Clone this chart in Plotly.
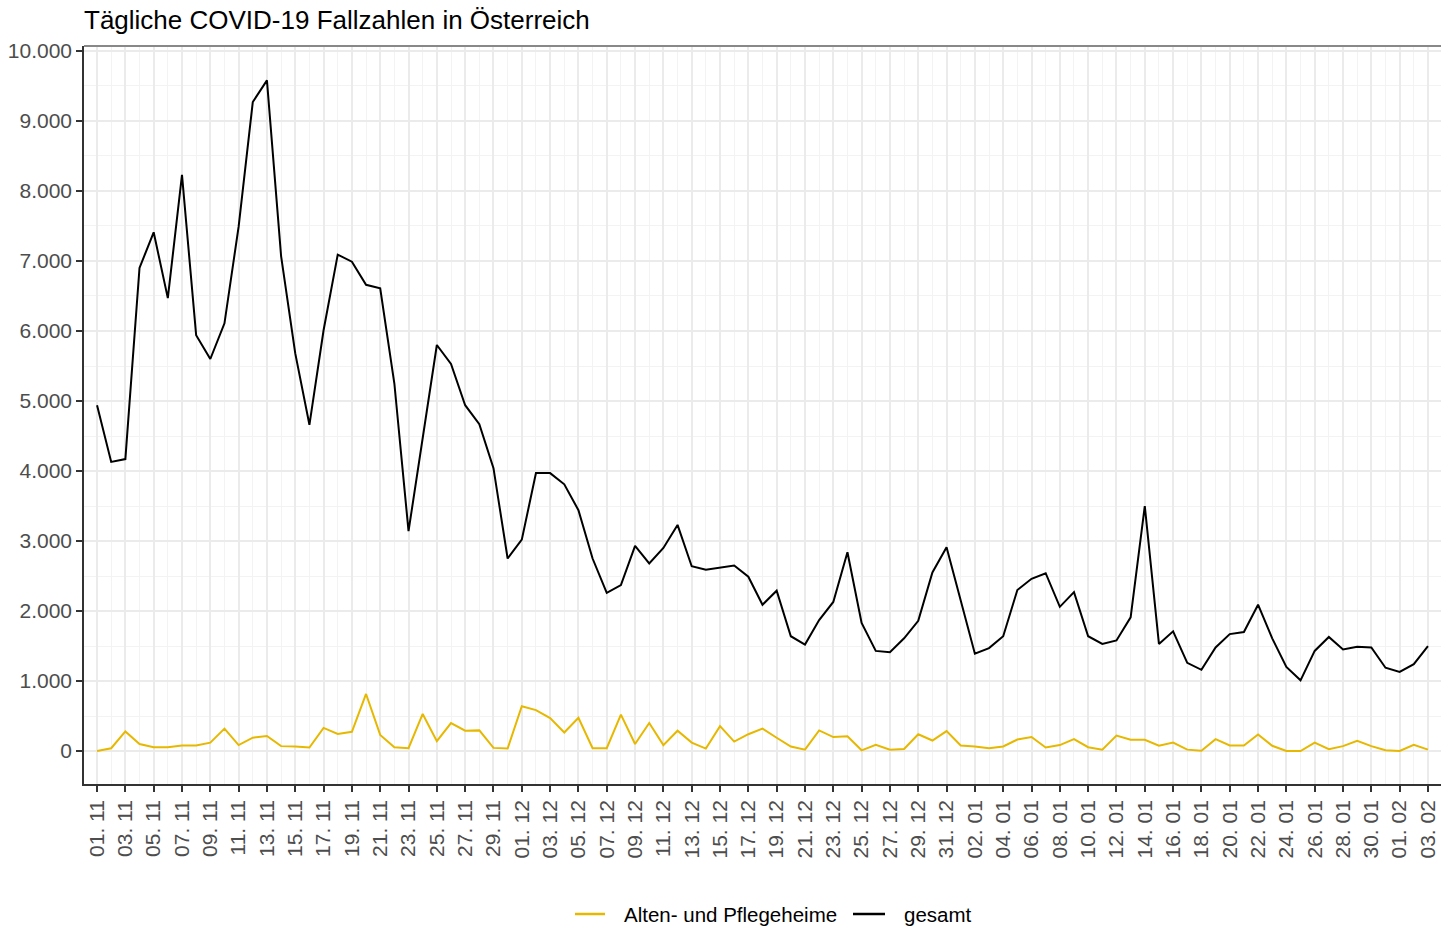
import plotly.graph_objects as go
import pandas as pd

start_date = "2020-11-01"
n_days = 95
dates = pd.date_range(start_date, periods=n_days, freq="D")

gesamt = [
    4940, 4130, 4170, 6900, 7410, 6470, 8230, 5940, 5600, 6110,
    7490, 9270, 9580, 7070, 5680, 4660, 6010, 7090, 6990, 6660,
    6610, 5250, 3140, 4440, 5800, 5530, 4940, 4670, 4040, 2750,
    3020, 3970, 3970, 3810, 3440, 2750, 2260, 2370, 2930, 2680,
    2900, 3230, 2640, 2590, 2620, 2650, 2490, 2090, 2290, 1640,
    1520, 1870, 2130, 2840, 1830, 1430, 1410, 1610, 1860, 2550,
    2910, 2140, 1390, 1470, 1640, 2300, 2460, 2540, 2060, 2270,
    1640, 1530, 1580, 1910, 3500, 1530, 1710, 1260, 1160, 1480,
    1670, 1700, 2090, 1610, 1200, 1010, 1430, 1630, 1450, 1490,
    1480, 1190, 1130, 1240, 1500,
]

heime = [
    0, 40, 280, 100, 55, 55, 80, 80, 120, 320,
    85, 190, 215, 70, 65, 50, 330, 245, 275, 815,
    230, 55, 40, 530, 140, 400, 290, 295, 45, 35,
    640, 585, 470, 265, 475, 40, 40, 520, 100, 400,
    85, 290, 120, 35, 355, 135, 240, 320, 190, 65,
    20, 295, 200, 210, 10, 90, 20, 30, 240, 150,
    285, 80, 65, 40, 65, 165, 200, 50, 85, 170,
    55, 20, 220, 160, 160, 75, 120, 20, 5, 170,
    80, 80, 235, 75, 0, 0, 120, 25, 70, 145,
    70, 10, 0, 90, 20,
]

series_names = ["Alten- und Pflegeheime", "gesamt"]
series_colors = ["#E7B800", "#000000"]
title_text = "Tägliche COVID-19 Fallzahlen in Österreich"

font_family = "Liberation Sans, Arial, sans-serif"

# page body margin is removed (post_script), figure fills the window
W, H = 1441, 926
ML, MT, MB, MR = 84, 46, 142, 0
PW = W - ML - MR
PH = H - MT - MB

fig = go.Figure()
for name, vals, col in zip(series_names, [heime, gesamt], series_colors):
    fig.add_trace(go.Scatter(
        x=dates, y=vals, mode="lines", name=name,
        line=dict(color=col, width=2),
        showlegend=False,
    ))

day_ms = 86400000
x0 = pd.Timestamp(start_date) - pd.Timedelta(hours=22.1)
x1 = pd.Timestamp(start_date) + pd.Timedelta(days=94) + pd.Timedelta(hours=22.1)

fig.update_layout(
    width=W, height=H,
    margin=dict(l=ML, r=MR, t=MT, b=MB, pad=0),
    paper_bgcolor="white", plot_bgcolor="white",
    separators=",.",
    font=dict(family=font_family, color="#4D4D4D", size=20),
    title=dict(
        text=title_text, x=ML / W, xref="container", xanchor="left",
        y=1 - 20 / H, yref="container", yanchor="middle",
        font=dict(size=26, color="black", family=font_family),
    ),
    showlegend=False,
    xaxis=dict(
        type="date", range=[x0, x1],
        tick0=start_date, dtick=2 * day_ms, tickformat="%d. %m",
        tickangle=-90,
        showgrid=True, gridcolor="#EBEBEB", gridwidth=1.5,
        minor=dict(dtick=day_ms, tick0=start_date, showgrid=True,
                   gridcolor="#F3F3F3", gridwidth=1),
        showline=True, linecolor="#333333", linewidth=1.5,
        ticks="outside", ticklen=6, tickcolor="#333333", tickwidth=1.5,
        tickfont=dict(size=21, color="#4D4D4D"),
        zeroline=False,
    ),
    yaxis=dict(
        range=[-471, 10071],
        tick0=0, dtick=1000, tickformat=",d",
        showgrid=True, gridcolor="#EBEBEB", gridwidth=1.5,
        minor=dict(dtick=500, tick0=0, showgrid=True,
                   gridcolor="#F3F3F3", gridwidth=1),
        showline=True, linecolor="#333333", linewidth=1.5,
        ticks="outside", ticklen=6, tickcolor="#333333", tickwidth=1.5,
        tickfont=dict(size=21, color="#4D4D4D"),
        zeroline=False,
    ),
)

fig.add_shape(type="line", xref="paper", yref="paper", x0=0, x1=1, y0=1, y1=1,
              line=dict(color="#888888", width=2))

# manual legend (positions in figure pixels -> paper coords)
def px(fx):
    return (fx - ML) / PW

def py(fy):
    return (H - MB - fy) / PH

leg_y = 914
legend_items = [
    (series_names[0], series_colors[0], 575, 605, 622),
    (series_names[1], series_colors[1], 853, 885, 902),
]
for name, col, lx0, lx1, tx in legend_items:
    fig.add_shape(type="line", xref="paper", yref="paper",
                  x0=px(lx0), x1=px(lx1), y0=py(leg_y), y1=py(leg_y),
                  line=dict(color=col, width=2.5))
    fig.add_annotation(xref="paper", yref="paper", x=px(tx), y=py(leg_y),
                       text=name, showarrow=False, xanchor="left", yanchor="middle",
                       font=dict(size=20.5, color="black", family=font_family))

fig.write_html(
    "out.html",
    config={"displayModeBar": False},
    post_script="document.body.style.margin='0';document.body.style.overflow='hidden';"
                "document.documentElement.style.overflow='hidden';",
)
